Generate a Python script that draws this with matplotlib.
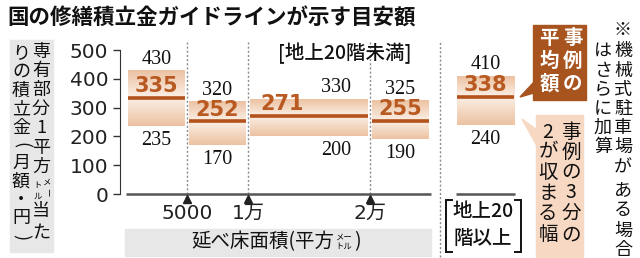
import numpy as np
import matplotlib
matplotlib.use('Agg')
import matplotlib.pyplot as plt
from matplotlib.colors import LinearSegmentedColormap
from matplotlib.patches import Rectangle, Polygon

# ---------------- data ----------------
categories = ['5000未満', '5000〜1万', '1万〜2万', '2万以上', '地上20階以上']
area_edges = [0, 5, 10, 20, 25]          # floor area (thousand m2) group edges, <20 floors
high_vals = [430, 320, 330, 325, 410]    # upper end of the 2/3 range
mean_vals = [335, 252, 271, 255, 338]    # average of cases
low_vals = [235, 170, 200, 190, 240]     # lower end of the 2/3 range
y_ticks = [0, 100, 200, 300, 400, 500]
x_tick_pos = [5, 10, 20]
x_tick_labels = ['5000', '1万', '2万']

# ---------------- style ----------------
JP = ['Noto Sans CJK JP', 'DejaVu Sans']
JPD = ['DejaVu Sans', 'Noto Sans CJK JP']
SERIF = ['Liberation Serif', 'DejaVu Serif']
PEACH = '#ecc2a2'
LIGHT = '#fcf2ea'
MEAN_C = '#b4521c'
MEAN_T = '#b85a22'
DARK_BOX = '#a8541f'
LIGHT_BOX = '#f7d8c2'
GRAY_BG = '#e7e7e7'

W, H = 640, 258
fig = plt.figure(figsize=(W / 100, H / 100), dpi=100)

X0PX, XSCALE = 126, 12.2   # px of area 0, px per thousand m2
Y0PX, YSCALE = 194, 0.288  # px of value 0, px per yen
axl, axr, axt, axb = 120, 524, 42, 194
ax = fig.add_axes([axl / W, 1 - axb / H, (axr - axl) / W, (axb - axt) / H])
xlim = ((axl - X0PX) / XSCALE, (axr - X0PX) / XSCALE)
ylim = (0, (Y0PX - axt) / YSCALE)

cmap = LinearSegmentedColormap.from_list('band', [LIGHT, PEACH])

gap = 0.2
spans = [(area_edges[i] + gap, area_edges[i + 1] - gap) for i in range(4)]
spans.append((27.1, 31.8))   # separate panel for 20+ floors
hi_frac = [0.5, 0.5, 0.73, 0.5, 0.5]
mean_frac = [0.5, 0.5, 0.27, 0.5, 0.5]

grad_up = np.linspace(0.05, 1, 64)[:, None]
grad_dn = np.linspace(1, 0.05, 64)[:, None]
for i in range(len(categories)):
    x0, x1 = spans[i]
    h, m, l = high_vals[i], mean_vals[i], low_vals[i]
    ax.imshow(grad_up, origin='lower', extent=[x0, x1, m, h], cmap=cmap,
              vmin=0, vmax=1, aspect='auto', zorder=1, interpolation='bilinear')
    ax.imshow(grad_dn, origin='lower', extent=[x0, x1, l, m], cmap=cmap,
              vmin=0, vmax=1, aspect='auto', zorder=1, interpolation='bilinear')
    ax.hlines(m, x0, x1, color=MEAN_C, lw=2.6, zorder=3)
    xh = x0 + hi_frac[i] * (x1 - x0)
    xm = x0 + mean_frac[i] * (x1 - x0)
    ax.annotate(str(h), (xh, h), xytext=(0, 8), textcoords='offset points',
                ha='center', va='center', fontsize=14.5, family=SERIF, color='#111')
    ax.annotate(str(l), (xh, l), xytext=(0, -10.5), textcoords='offset points',
                ha='center', va='center', fontsize=14.5, family=SERIF, color='#111')
    ax.annotate(str(m), (xm, m), xytext=(0, 8.5), textcoords='offset points',
                ha='center', va='center', fontsize=15, family='DejaVu Sans',
                weight='bold', color=MEAN_T, zorder=4)

# dotted guide lines
ax.vlines(x_tick_pos, 0, ylim[1], colors='#8c8c8c', linestyles=(0, (1.5, 1.5)),
          lw=1, zorder=0)
ax.vlines([25.75], -220, ylim[1], colors='#8c8c8c', linestyles=(0, (1.5, 1.5)),
          lw=1, zorder=0, clip_on=False)
# base lines
ax.hlines(0, 0, 25, color='#555555', lw=1.8, clip_on=False, zorder=2)
ax.hlines(0, 27.05, 31.9, color='#555555', lw=1.8, clip_on=False, zorder=2)
# triangle markers + x tick labels
ax.plot(x_tick_pos, [-17] * len(x_tick_pos), ls='none', marker='^', ms=5.5,
        color='#222222', clip_on=False, zorder=3)
for xp, lab in zip(x_tick_pos, x_tick_labels):
    ax.text(xp, -66, lab, ha='center', va='center', fontsize=14.5,
            family=JPD, color='#222222', clip_on=False)

ax.set_xlim(*xlim)
ax.set_ylim(*ylim)
ax.set_yticks(y_ticks)
ax.set_yticklabels([str(v) for v in y_ticks], family='DejaVu Sans', fontsize=14.5,
                   color='#222222')
ax.set_xticks([])
ax.tick_params(axis='y', length=5, width=1, pad=3.5, color='#333333')
for s in ['top', 'right', 'bottom']:
    ax.spines[s].set_visible(False)
ax.spines['left'].set_bounds(0, 500)
ax.spines['left'].set_color('#333333')
ax.patch.set_visible(False)

# ---------------- overlay in pixel coords ----------------
ov = fig.add_axes([0, 0, 1, 1])
ov.set_xlim(0, W)
ov.set_ylim(H, 0)
ov.axis('off')
ov.patch.set_visible(False)

def vtext(x, ys, chars, fs, **kw):
    for c, y in zip(chars, ys):
        rot = 270 if c in '()' else 0
        ov.text(x, y, c, ha='center', va='center', fontsize=fs, family=JP,
                rotation=rot, **kw)

# title
ov.text(7, 18, '国の修繕積立金ガイドラインが示す目安額', ha='left', va='center',
        fontsize=15.5, family=JP, weight='bold', color='#111111')

# y label (vertical, two columns)
ov.add_patch(Rectangle((10, 40), 43, 212, color=GRAY_BG, zorder=0))
vtext(41, [52, 71, 90, 109, 128, 148, 167], '専有部分1平方', 13, color='#111111')
ov.text(46.5, 182, 'メ', ha='center', va='center', fontsize=6, family=JP)
ov.text(46.5, 192, 'ー', ha='center', va='center', fontsize=6, family=JP, rotation=270)
ov.text(37.5, 186, 'ト', ha='center', va='center', fontsize=6, family=JP)
ov.text(37.5, 196, 'ル', ha='center', va='center', fontsize=6, family=JP)
vtext(41, [211, 233], '当た', 13, color='#111111')
vtext(21, [53, 72, 91, 110, 128, 145, 163, 182, 200, 218, 237], 'りの積立金(月額・円)', 13,
      color='#111111')

# x label (centered in the gray band)
ov.add_patch(Rectangle((125, 229), 306, 27, color=GRAY_BG, zorder=0))
xl = ov.text(0, 242, '延べ床面積(平方', ha='left', va='center', fontsize=14,
             family=JP, color='#111111')
small = ov.text(0, 242, 'メー\nトル', ha='left', va='center', fontsize=6, family=JP,
                linespacing=1.0)
fig.canvas.draw()
wmain = xl.get_window_extent().width
wsmall = small.get_window_extent().width
total = wmain + wsmall + 10
xstart = 276 - total / 2
xl.set_x(xstart)
xend = xstart + wmain
small.set_x(xend + 1)
ov.text(xend + wsmall + 3, 242, ')', ha='left', va='center', fontsize=14, family=JP,
        color='#111111')

# group headers
ov.text(345, 53, '[地上20階未満]', ha='center', va='center', fontsize=14,
        family=JP, weight='medium', color='#111111')
ov.text(483, 211, '地上20', ha='center', va='center', fontsize=14, family=JP,
        weight='medium', color='#111111')
ov.text(483, 238, '階以上', ha='center', va='center', fontsize=14, family=JP,
        weight='medium', color='#111111')
for xs, d in [(446, 1), (521, -1)]:
    ov.plot([xs + 6 * d, xs, xs, xs + 6 * d], [200, 200, 252, 252], color='#111111',
            lw=1.4, solid_joinstyle='miter')

# legend: average
ov.add_patch(Rectangle((533, 25), 53, 75, color=DARK_BOX, zorder=1))
ov.add_patch(Polygon([(534, 82), (534, 93), (520, 97)], closed=True, color=DARK_BOX, zorder=1))
vtext(573, [38, 61, 84], '事例の', 14, color='white', weight='bold', zorder=2)
vtext(549, [38, 61, 84], '平均額', 14, color='white', weight='bold', zorder=2)

# legend: 2/3 range
ov.add_patch(Rectangle((536, 115), 47, 143, color=LIGHT_BOX, zorder=1))
ov.add_patch(Polygon([(522, 119), (537, 130), (537, 146)], closed=True, color=LIGHT_BOX,
                     zorder=1))
ys6 = [132, 152, 172, 193, 213, 235]
vtext(571, ys6, '事例の3分の', 14, color='#111111', zorder=2)
vtext(548, ys6, '2が収まる幅', 14, color='#111111', zorder=2)

# note
ys_note = [30, 51, 71, 90, 109, 128, 147, 168, 190, 210, 231, 250]
vtext(623, ys_note, '※機械式駐車場がある場合', 13, color='#111111')
vtext(603, ys_note[1:7], 'はさらに加算', 13, color='#111111')

fig.savefig('out.png', dpi=100)
